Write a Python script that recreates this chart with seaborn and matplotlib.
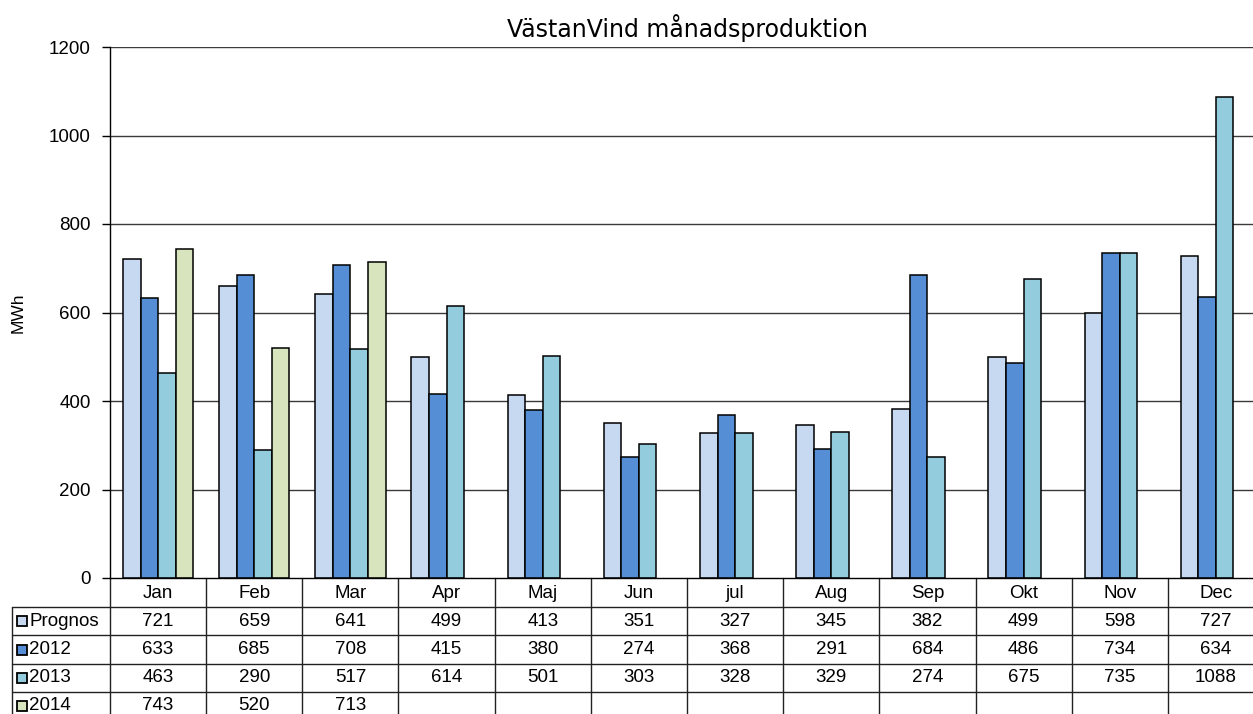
import matplotlib
matplotlib.use("Agg")
import matplotlib.pyplot as plt
import matplotlib.transforms as mtransforms
from matplotlib.lines import Line2D
from matplotlib.patches import Rectangle
import numpy as np
import pandas as pd
import seaborn as sns

months = ["Jan", "Feb", "Mar", "Apr", "Maj", "Jun", "jul", "Aug", "Sep", "Okt", "Nov", "Dec"]
series_names = ["Prognos", "2012", "2013", "2014"]
prognos = [721, 659, 641, 499, 413, 351, 327, 345, 382, 499, 598, 727]
y2012 = [633, 685, 708, 415, 380, 274, 368, 291, 684, 486, 734, 634]
y2013 = [463, 290, 517, 614, 501, 303, 328, 329, 274, 675, 735, 1088]
y2014 = [743, 520, 713]
colors = ["#C6D9F1", "#558ED5", "#93CDDD", "#D7E4BD"]
y_ticks = [0, 200, 400, 600, 800, 1000, 1200]

all_series = [prognos, y2012, y2013, y2014]
rows = []
for name, vals in zip(series_names, all_series):
    for m, v in zip(months, vals):
        rows.append({"month": m, "series": name, "value": v})
df = pd.DataFrame(rows)

sns.set_theme(style="white")
plt.rcParams["font.family"] = ["Liberation Sans", "DejaVu Sans"]
plt.rcParams["text.color"] = "black"
plt.rcParams["axes.labelcolor"] = "black"
plt.rcParams["xtick.color"] = "black"
plt.rcParams["ytick.color"] = "black"

W, H = 1253, 714
fig = plt.figure(figsize=(W / 100, H / 100), dpi=100)
ax = fig.add_axes([110 / W, 136 / H, 1154 / W, 531 / H])

sns.barplot(data=df, x="month", y="value", hue="series", order=months,
            hue_order=series_names, palette=colors, width=0.73, gap=0,
            edgecolor="black", linewidth=1.1, ax=ax, legend=False, saturation=1)

ax.set_xlim(-0.5, 11.5)
ax.set_ylim(0, 1200)
ax.set_yticks(y_ticks)
ax.set_yticklabels([str(t) for t in y_ticks], fontsize=13.5)
ax.set_xticks([])
ax.set_xlabel("")
ax.set_ylabel("MWh", fontsize=12.5)
ax.yaxis.set_label_coords(-84 / 1154, 0.5)
for t in y_ticks[1:]:
    ax.axhline(t, color="#3a3a3a", lw=1.0, zorder=0)
ax.set_axisbelow(True)
ax.tick_params(axis="y", direction="out", length=6, width=1, color="black", pad=8, left=True)
for s in ["top", "right"]:
    ax.spines[s].set_visible(False)
ax.spines["left"].set_color("black")
ax.spines["bottom"].set_color("black")
ax.spines["left"].set_linewidth(1)
ax.spines["bottom"].set_linewidth(1)

ax.set_title("VästanVind månadsproduktion", fontsize=17, family="DejaVu Sans", pad=7, color="black")

# data table under the chart
tr = mtransforms.blended_transform_factory(ax.transData, ax.transAxes)
px_per_unit = 1154 / 12.0
def yfrac(ypix):
    return (578 - ypix) / 531.0

x_left = -0.5 - (110 - 12) / px_per_unit
row_lines = [607, 635, 664, 692]
row_centers = [593, 621, 650, 678, 706]
lc = "#222222"
for yl in row_lines:
    ax.add_line(Line2D([x_left, 11.5], [yfrac(yl), yfrac(yl)], transform=tr,
                       color=lc, lw=1, clip_on=False))
for i in range(13):
    xv = i - 0.5
    ax.add_line(Line2D([xv, xv], [0, yfrac(730)], transform=tr, color=lc, lw=1, clip_on=False))
ax.add_line(Line2D([x_left, x_left], [yfrac(607), yfrac(730)], transform=tr, color=lc, lw=1, clip_on=False))

for i, m in enumerate(months):
    ax.text(i, yfrac(row_centers[0]), m, transform=tr, ha="center", va="center", fontsize=13.5)

for r, (name, vals, col) in enumerate(zip(series_names, all_series, colors)):
    yc = yfrac(row_centers[r + 1])
    sq_x = x_left + 5 / px_per_unit
    sq_w = 10 / px_per_unit
    sq_h = 10 / 531.0
    ax.add_patch(Rectangle((sq_x, yc - sq_h / 2), sq_w, sq_h, transform=tr,
                           facecolor=col, edgecolor="black", lw=1.3, clip_on=False))
    ax.text(x_left + 17 / px_per_unit, yc, name, transform=tr, ha="left", va="center", fontsize=13.5)
    for i, v in enumerate(vals):
        ax.text(i, yc, str(v), transform=tr, ha="center", va="center", fontsize=13.5)

fig.savefig("out.png", dpi=100)
